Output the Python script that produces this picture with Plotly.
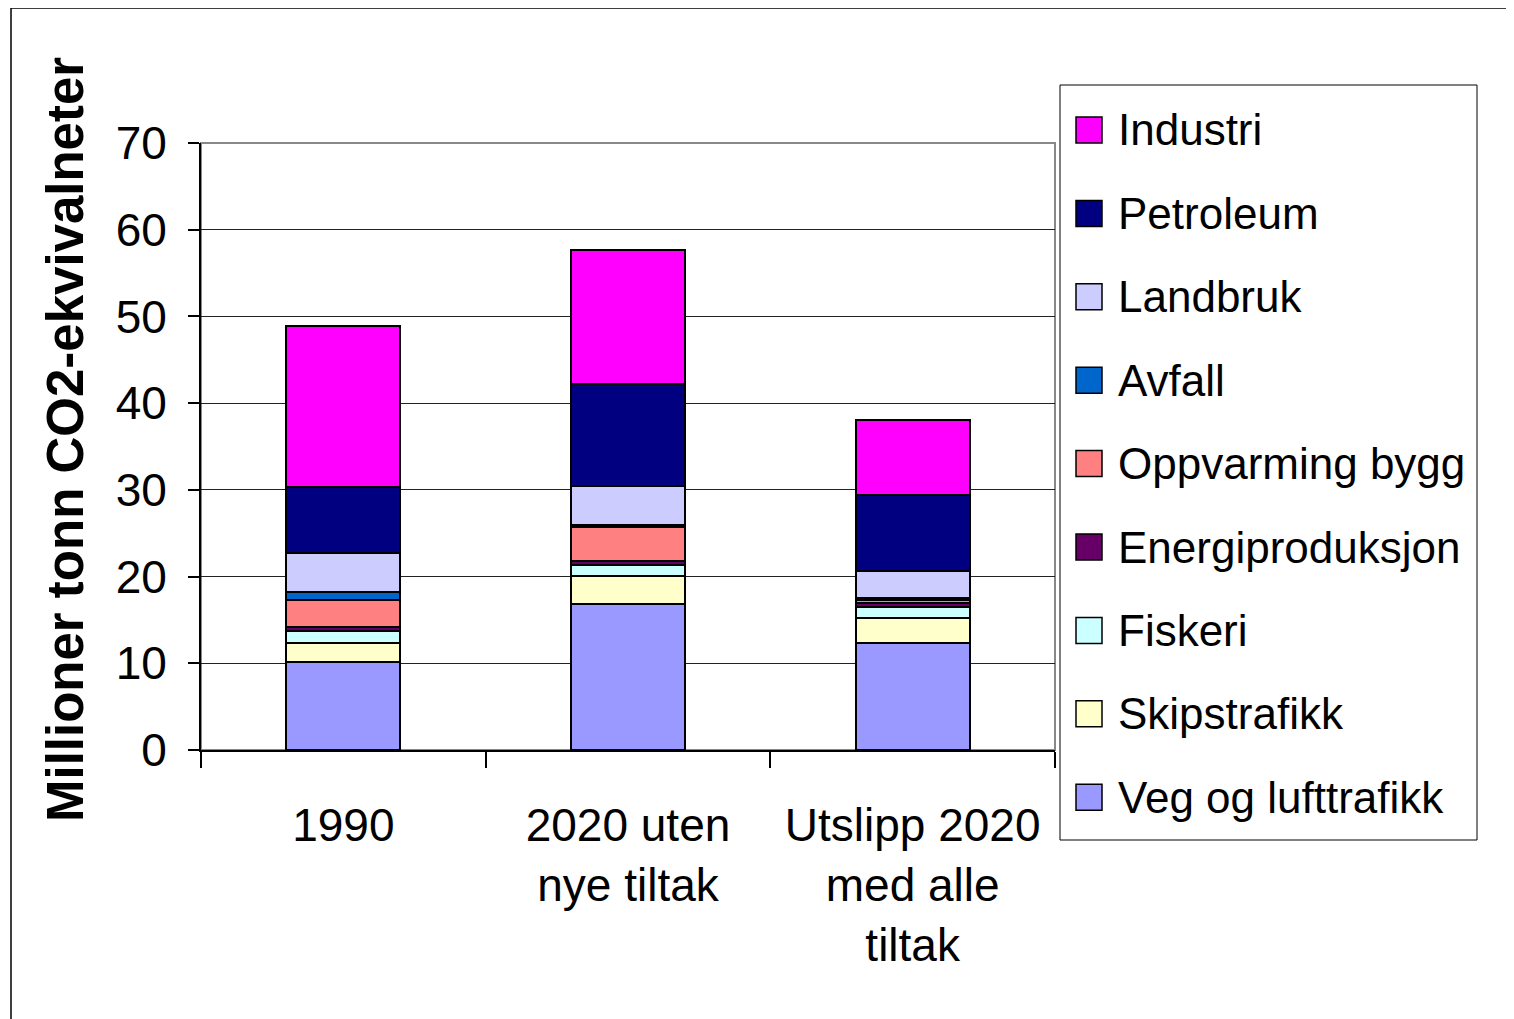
import plotly.graph_objects as go

categories = ["1990", "2020 uten<br>nye tiltak", "Utslipp 2020<br>med alle<br>tiltak"]

series_names = ["Veg og lufttrafikk", "Skipstrafikk", "Fiskeri", "Energiproduksjon",
                "Oppvarming bygg", "Avfall", "Landbruk", "Petroleum", "Industri"]
series_colors = ["#9999FF", "#FFFFCC", "#CCFFFF", "#660066",
                 "#FF8080", "#0066CC", "#CCCCFF", "#000080", "#FF00FF"]

veg = [10.1, 16.8, 12.3]
skip = [2.2, 3.3, 2.95]
fiskeri = [1.45, 1.2, 1.2]
energi = [0.45, 0.55, 0.55]
oppvarming = [3.1, 3.9, 0.25]
avfall = [0.95, 0.2, 0.25]
landbruk = [4.5, 4.5, 3.1]
petroleum = [7.55, 11.75, 8.8]
industri = [18.6, 15.5, 8.65]

series_values = [veg, skip, fiskeri, energi, oppvarming, avfall, landbruk, petroleum, industri]

y_ticks = [0, 10, 20, 30, 40, 50, 60, 70]
y_title = "Millioner tonn CO2-ekvivalneter"

# page body adds an 8px margin; compensate
OFF = 8
W, H = 1514 - OFF, 1019 - OFF
L, R, T, B = 201, 1055, 143, 750
FONT = "Liberation Sans, Arial, sans-serif"


def px(x):
    return (x - L) / (R - L)


def py(y):
    return (B - y) / (B - T)


fig = go.Figure()
for name, color, vals in zip(series_names, series_colors, series_values):
    fig.add_trace(go.Bar(
        x=categories, y=vals, name=name,
        marker=dict(color=color, line=dict(color="black", width=2)),
        showlegend=False,
    ))

shapes = []
annotations = []

# plot area border (top/right gray)
shapes.append(dict(type="rect", xref="paper", yref="paper", x0=0, x1=1, y0=0, y1=1,
                   line=dict(color="#888888", width=2), layer="below"))
# outer frame
shapes.append(dict(type="rect", xref="paper", yref="paper", x0=px(11), x1=px(1540),
                   y0=py(1050), y1=py(8), line=dict(color="black", width=1.5)))

# legend box
shapes.append(dict(type="rect", xref="paper", yref="paper", x0=px(1060), x1=px(1477),
                   y0=py(840), y1=py(85), line=dict(color="black", width=1), fillcolor="white"))
top_c, step = 130, 83.4
for i, (name, color) in enumerate(zip(reversed(series_names), reversed(series_colors))):
    cy = top_c + i * step
    shapes.append(dict(type="rect", xref="paper", yref="paper", x0=px(1076), x1=px(1102),
                       y0=py(cy + 13), y1=py(cy - 13), fillcolor=color,
                       line=dict(color="black", width=1.5)))
    annotations.append(dict(xref="paper", yref="paper", x=px(1116), y=py(cy), text=name,
                            showarrow=False, xanchor="left", yanchor="middle",
                            font=dict(family=FONT, size=44, color="black")))

# y-axis title
annotations.append(dict(xref="paper", yref="paper", x=px(65), y=py(440), text="<b>" + y_title + "</b>",
                        textangle=-90, showarrow=False, xanchor="center", yanchor="middle",
                        font=dict(family=FONT, size=51, color="black")))

fig.update_layout(
    width=W, height=H,
    margin=dict(l=L - OFF, r=W - (R - OFF), t=T - OFF, b=H - (B - OFF), pad=0),
    paper_bgcolor="white", plot_bgcolor="white",
    barmode="stack", bargap=0.6,
    shapes=shapes, annotations=annotations,
    font=dict(family=FONT, size=46, color="black"),
    xaxis=dict(
        type="category", showline=True, linecolor="black", linewidth=2,
        ticks="outside", tickson="boundaries", ticklen=16, tickcolor="black", tickwidth=1.5,
        tickfont=dict(family=FONT, size=46, color="black"), showgrid=False,
        ticklabelstandoff=34,
    ),
    yaxis=dict(
        range=[0, 70], tickvals=y_ticks, showline=True, linecolor="black", linewidth=2,
        ticks="outside", ticklen=11, tickcolor="black", tickwidth=1.5,
        tickfont=dict(family=FONT, size=46, color="black"),
        showgrid=True, gridcolor="#222222", gridwidth=1.2, zeroline=False,
        ticklabelstandoff=12,
    ),
)

fig.write_html("out.html")
